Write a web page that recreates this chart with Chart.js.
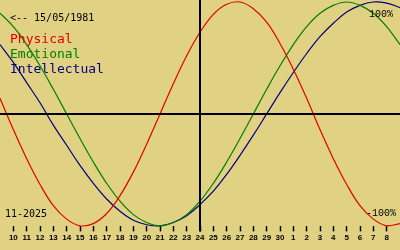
<!DOCTYPE html>
<html>
  <head>
    <style>
      body { margin: 0; background: #e0d282; }
      #wrap { width: 400px; height: 250px; }
    </style>
    <script src="https://cdn.jsdelivr.net/npm/chart.js"></script>
  </head>
  <body>
    <div id="wrap"><canvas id="bioChart"></canvas></div>

    <script>
      // days shown, 9 Nov .. 9 Dec 2025 (24 Nov in the middle)
      var days = ['9', '10', '11', '12', '13', '14', '15', '16', '17', '18', '19', '20', '21', '22', '23',
                  '24', '25', '26', '27', '28', '29', '30', '1', '2', '3', '4', '5', '6', '7', '8', '9'];
      var physical = [0.14, -0.14, -0.40, -0.63, -0.82, -0.94, -1.00, -0.98, -0.89, -0.73, -0.52, -0.27, 0.00, 0.27, 0.52,
                      0.73, 0.89, 0.98, 1.00, 0.94, 0.82, 0.63, 0.40, 0.14, -0.14, -0.40, -0.63, -0.82, -0.94, -1.00, -0.98];
      var emotional = [0.90, 0.78, 0.62, 0.43, 0.22, 0.00, -0.22, -0.43, -0.62, -0.78, -0.90, -0.97, -1.00, -0.97, -0.90,
                       -0.78, -0.62, -0.43, -0.22, 0.00, 0.22, 0.43, 0.62, 0.78, 0.90, 0.97, 1.00, 0.97, 0.90, 0.78, 0.62];
      var intellectual = [0.62, 0.46, 0.28, 0.10, -0.10, -0.28, -0.46, -0.62, -0.76, -0.87, -0.95, -0.99, -1.00, -0.97, -0.91,
                          -0.81, -0.69, -0.54, -0.37, -0.19, 0.00, 0.19, 0.37, 0.54, 0.69, 0.81, 0.91, 0.97, 1.00, 0.99, 0.95];
      var birthText = '<-- 15/05/1981';
      var monthText = '11-2025';
      var todayIndex = 15;

      var RED = '#e00000', GREEN = '#008000', BLUE = '#000080';

      var overlay = {
        id: 'overlay',
        afterDatasetsDraw: function (chart) {
          var c = chart.ctx, a = chart.chartArea;
          var x0 = chart.scales.x.getPixelForValue(todayIndex);
          var y0 = chart.scales.y.getPixelForValue(0);
          c.save();
          c.strokeStyle = '#000';
          c.lineWidth = 2;
          c.beginPath();
          c.moveTo(0, y0); c.lineTo(400, y0);
          c.moveTo(x0, 0); c.lineTo(x0, a.bottom + 5);
          c.stroke();

          c.textBaseline = 'alphabetic';
          c.font = '10px "DejaVu Sans Mono"';
          c.fillStyle = '#000';
          c.fillText(birthText, 10, 21);
          c.fillText(monthText, 5, 217);

          c.font = '13px "DejaVu Sans Mono"';
          c.fillStyle = RED;   c.fillText('Physical', 10, 43);
          c.fillStyle = GREEN; c.fillText('Emotional', 10, 58);
          c.fillStyle = BLUE;  c.fillText('Intellectual', 10, 73);

          c.font = '10px "Liberation Mono"';
          c.fillStyle = '#000';
          c.fillText('100%', 369, 17);
          c.fillText('-100%', 366, 216);
          c.restore();
        }
      };

      function line(label, data, color) {
        return {
          label: label,
          data: data,
          borderColor: color,
          borderWidth: 1.2,
          pointRadius: 0,
          tension: 0.4,
          clip: false
        };
      }

      var ctx = document.getElementById('bioChart').getContext('2d');
      new Chart(ctx, {
        type: 'line',
        data: {
          labels: days,
          datasets: [
            line('Physical', physical, RED),
            line('Emotional', emotional, GREEN),
            line('Intellectual', intellectual, BLUE)
          ]
        },
        options: {
          responsive: true,
          maintainAspectRatio: false,
          animation: false,
          layout: { autoPadding: false, padding: { left: 0, right: 0, top: 0, bottom: 5 } },
          plugins: { legend: { display: false }, tooltip: { enabled: false } },
          scales: {
            x: {
              offset: false,
              border: { display: false },
              afterFit: function (s) { s.paddingLeft = 0; s.paddingRight = 0; },
              grid: {
                drawOnChartArea: false,
                tickLength: 5,
                tickWidth: 1.5,
                tickColor: function (c) {
                  return (c.index === 0 || c.index === days.length - 1) ? 'transparent' : '#000';
                }
              },
              ticks: {
                autoSkip: false,
                maxRotation: 0,
                padding: 2,
                color: '#000',
                font: { family: 'Liberation Sans', size: 8, weight: 'bold' },
                callback: function (v, i) {
                  return (i === 0 || i === days.length - 1) ? '' : days[i];
                }
              }
            },
            y: { display: false, min: -1.005, max: 1.018 }
          }
        },
        plugins: [overlay]
      });
    </script>
  </body>
</html>
